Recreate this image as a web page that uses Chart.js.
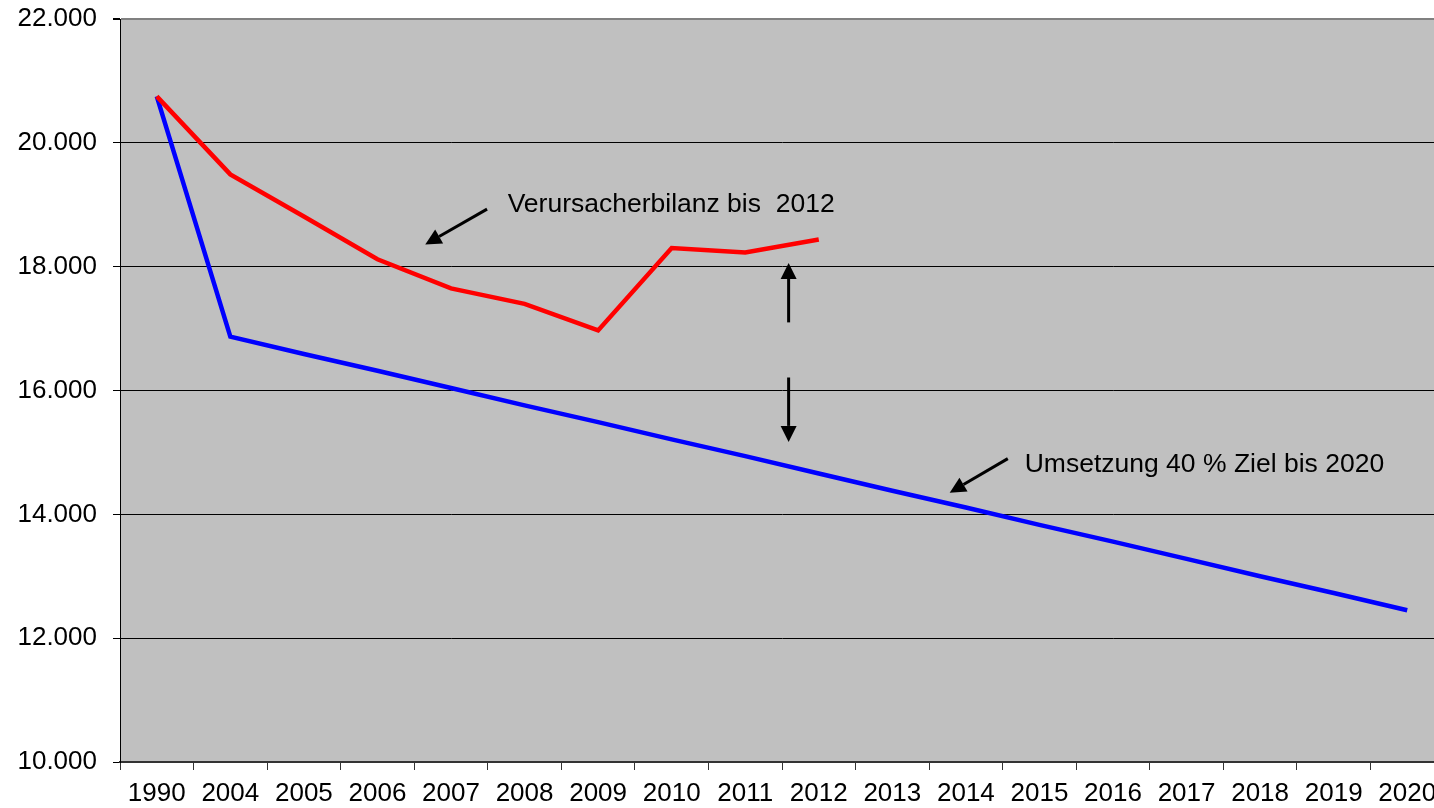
<!DOCTYPE html>
<html>
<head>
<meta charset="utf-8">
<script src="https://cdn.jsdelivr.net/npm/chart.js@4/dist/chart.umd.min.js"></script>
<style>
  html, body { margin: 0; padding: 0; background: #fff; overflow: hidden; }
  #wrap { width: 1450px; height: 808px; }
</style>
</head>
<body>
<div id="wrap"><canvas id="co2Chart" width="1450" height="808"></canvas></div>
<script>
// Kategorien (Jahre)
const years = ['1990', '2004', '2005', '2006', '2007', '2008', '2009', '2010', '2011',
               '2012', '2013', '2014', '2015', '2016', '2017', '2018', '2019', '2020'];

// Verursacherbilanz bis 2012 (rot)
const verursacher = [20750, 19490, 18810, 18120, 17650, 17400, 16970, 18300, 18230, 18440,
                     null, null, null, null, null, null, null, null];

// Umsetzung 40 % Ziel bis 2020 (blau)
const zielPfad = [20750, 16870, 16590, 16320, 16040, 15760, 15490, 15210, 14940, 14660,
                  14380, 14110, 13830, 13560, 13280, 13000, 12730, 12450];

const yTicks = [10000, 12000, 14000, 16000, 18000, 20000, 22000];

const FONT = 'Liberation Sans, Arial, Helvetica, sans-serif';

// Hintergrund der Zeichenfläche + Beschriftungen mit Pfeilen
const annotations = {
    id: 'annotations',
    beforeDraw(chart) {
        const { ctx, chartArea: a } = chart;
        ctx.save();
        ctx.fillStyle = '#c0c0c0';
        ctx.fillRect(a.left, a.top, a.right - a.left, a.bottom - a.top);
        ctx.restore();
    },
    afterDatasetsDraw(chart) {
        const { ctx, scales: { x, y } } = chart;

        function arrow(x1, y1, x2, y2) {
            const px1 = x.getPixelForValue(x1), py1 = y.getPixelForValue(y1);
            const px2 = x.getPixelForValue(x2), py2 = y.getPixelForValue(y2);
            const ang = Math.atan2(py2 - py1, px2 - px1);
            const len = 16, half = 8;
            const bx = px2 - len * Math.cos(ang), by = py2 - len * Math.sin(ang);
            ctx.beginPath();
            ctx.moveTo(px1, py1);
            ctx.lineTo(bx, by);
            ctx.lineWidth = 3;
            ctx.strokeStyle = '#000';
            ctx.stroke();
            ctx.beginPath();
            ctx.moveTo(px2, py2);
            ctx.lineTo(bx + half * Math.sin(ang), by - half * Math.cos(ang));
            ctx.lineTo(bx - half * Math.sin(ang), by + half * Math.cos(ang));
            ctx.closePath();
            ctx.fillStyle = '#000';
            ctx.fill();
        }

        function label(text, xi, yv) {
            ctx.font = '26.5px ' + FONT;
            ctx.fillStyle = '#000';
            ctx.textAlign = 'left';
            ctx.textBaseline = 'middle';
            ctx.fillText(text, x.getPixelForValue(xi), y.getPixelForValue(yv));
        }

        ctx.save();
        label('Verursacherbilanz bis  2012', 4.77, 19000);
        arrow(4.49, 18930, 3.65, 18360);
        label('Umsetzung 40 % Ziel bis 2020', 11.80, 14800);
        arrow(11.57, 14900, 10.78, 14350);
        // Abstand zwischen Ist und Ziel
        arrow(8.59, 17100, 8.59, 18060);
        arrow(8.59, 16210, 8.59, 15170);
        ctx.restore();
    }
};

new Chart(document.getElementById('co2Chart'), {
    type: 'line',
    data: {
        labels: years,
        datasets: [{
            label: 'Verursacherbilanz bis 2012',
            data: verursacher,
            borderColor: '#ff0000',
            borderWidth: 4.5,
            pointRadius: 0,
            tension: 0,
            spanGaps: false
        }, {
            label: 'Umsetzung 40 % Ziel bis 2020',
            data: zielPfad,
            borderColor: '#0000ff',
            borderWidth: 4.5,
            pointRadius: 0,
            tension: 0
        }]
    },
    options: {
        responsive: false,
        animation: false,
        layout: { padding: { top: 19, right: 6, left: 0, bottom: 0 } },
        plugins: {
            legend: { display: false },
            tooltip: { enabled: false }
        },
        scales: {
            x: {
                offset: true,
                afterFit(scale) {
                    scale.height = 46;
                    scale.paddingLeft = 0;
                    scale.paddingRight = 0;
                },
                grid: {
                    offset: true,
                    drawOnChartArea: false,
                    drawTicks: true,
                    tickLength: 8,
                    color: '#333'
                },
                border: { color: '#333', width: 2 },
                ticks: {
                    color: '#000',
                    font: { family: FONT, size: 26 },
                    padding: 8,
                    maxRotation: 0,
                    autoSkip: false
                }
            },
            y: {
                min: 10000,
                max: 22000,
                afterFit(scale) {
                    scale.width = 120;
                    scale.paddingTop = 0;
                    scale.paddingBottom = 0;
                },
                afterBuildTicks(scale) {
                    scale.ticks = yTicks.map(v => ({ value: v }));
                },
                grid: {
                    color: ctx => ctx.tick && ctx.tick.value === 22000 ? '#808080' : '#000',
                    lineWidth: ctx => ctx.tick && ctx.tick.value === 22000 ? 2 : 1,
                    tickColor: '#000',
                    tickLength: 7
                },
                border: { color: '#000', width: 1 },
                ticks: {
                    color: '#000',
                    font: { family: FONT, size: 26 },
                    padding: 16,
                    callback: v => v.toLocaleString('de-DE')
                }
            }
        }
    },
    plugins: [annotations]
});
</script>
</body>
</html>
